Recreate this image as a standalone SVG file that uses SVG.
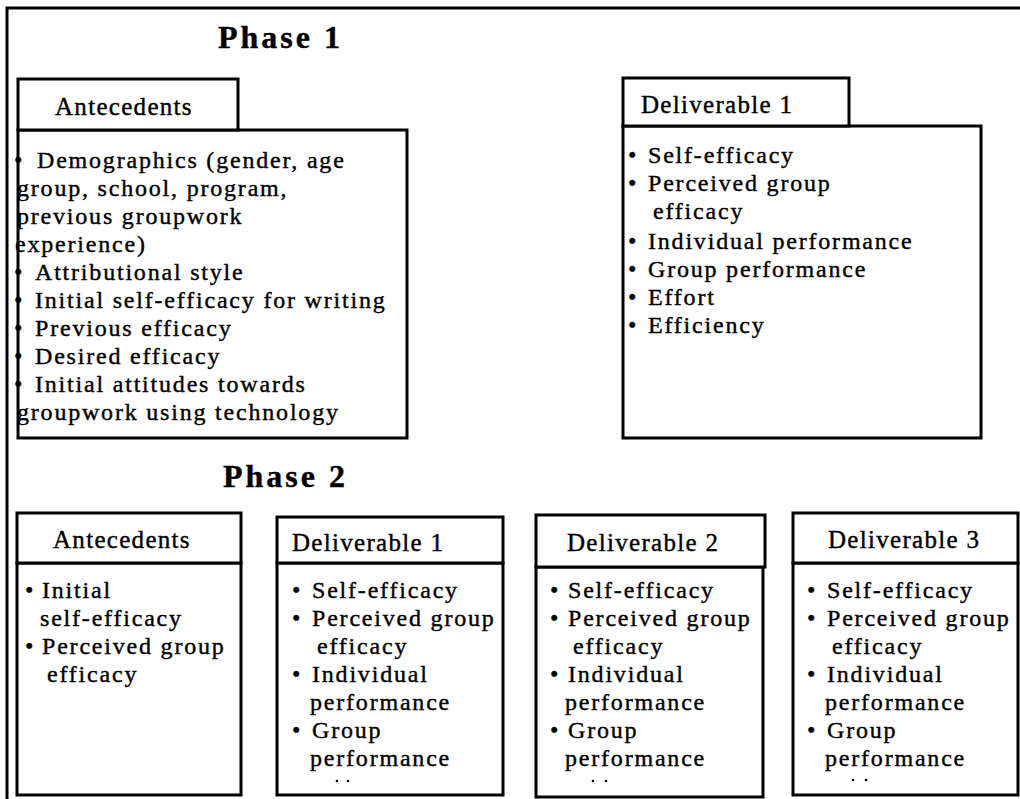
<svg xmlns="http://www.w3.org/2000/svg" width="1020" height="799" viewBox="0 0 1020 799">
<style>
.box{fill:#fff;stroke:#000;stroke-width:3}
.frame{fill:none;stroke:#000;stroke-width:3}
text{font-family:"Liberation Serif","Times New Roman",serif;fill:#000;stroke:#000;stroke-width:0.4}
.title{font-size:32px;font-weight:bold;letter-spacing:3px}
.h{font-size:25px;letter-spacing:1.3px}
.t{font-size:24px;letter-spacing:1.8px}
</style>
<rect width="1020" height="799" fill="#fff"/>
<path class="frame" d="M7,799 V8 H1020"/>
<text class="title" x="218" y="48">Phase 1</text>
<text class="title" x="223" y="487">Phase 2</text>

<g id="p1-antecedents">
<rect class="box" x="18" y="130" width="389" height="308"/>
<rect class="box" x="18" y="79" width="220" height="51"/>
<text class="h" x="55" y="115">Antecedents</text>
<g class="t">
<text x="14" y="168">•</text><text x="37" y="168">Demographics (gender, age</text>
<text x="17" y="196">group, school, program,</text>
<text x="17" y="224">previous groupwork</text>
<text x="15" y="252">experience)</text>
<text x="14" y="280">•</text><text x="35" y="280">Attributional style</text>
<text x="14" y="308">•</text><text x="35" y="308">Initial self-efficacy for writing</text>
<text x="14" y="336">•</text><text x="35" y="336">Previous efficacy</text>
<text x="14" y="364">•</text><text x="35" y="364">Desired efficacy</text>
<text x="14" y="392">•</text><text x="35" y="392">Initial attitudes towards</text>
<text x="17" y="420">groupwork using technology</text>
</g>
</g>

<g id="p1-deliverable1">
<rect class="box" x="623" y="126" width="358" height="312"/>
<rect class="box" x="623" y="78" width="226" height="48"/>
<text class="h" x="641" y="113">Deliverable 1</text>
<g class="t">
<text x="628" y="163">•</text><text x="648" y="163">Self-efficacy</text>
<text x="628" y="191">•</text><text x="648" y="191">Perceived group</text>
<text x="653" y="219">efficacy</text>
<text x="628" y="249">•</text><text x="648" y="249">Individual performance</text>
<text x="628" y="277">•</text><text x="648" y="277">Group performance</text>
<text x="628" y="305">•</text><text x="648" y="305">Effort</text>
<text x="628" y="333">•</text><text x="648" y="333">Efficiency</text>
</g>
</g>

<g id="p2-antecedents">
<rect class="box" x="17" y="563" width="224" height="232"/>
<rect class="box" x="17" y="513" width="224" height="50"/>
<text class="h" x="53" y="548">Antecedents</text>
<g class="t">
<text x="25" y="598">•</text><text x="42" y="598">Initial</text>
<text x="40" y="626">self-efficacy</text>
<text x="25" y="654">•</text><text x="42" y="654">Perceived group</text>
<text x="47" y="682">efficacy</text>
</g>
</g>

<g id="p2-deliverable1">
<rect class="box" x="277" y="563" width="226" height="232"/>
<rect class="box" x="277" y="517" width="226" height="46"/>
<text class="h" x="292" y="551">Deliverable 1</text>
<g class="t">
<text x="292" y="598">•</text><text x="312" y="598">Self-efficacy</text>
<text x="292" y="626">•</text><text x="312" y="626">Perceived group</text>
<text x="317" y="654">efficacy</text>
<text x="292" y="682">•</text><text x="312" y="682">Individual</text>
<text x="310" y="710">performance</text>
<text x="292" y="738">•</text><text x="312" y="738">Group</text>
<text x="310" y="766">performance</text>
</g>
<circle cx="337" cy="781" r="1.3"/><circle cx="348" cy="781" r="1.3"/>
</g>

<g id="p2-deliverable2">
<rect class="box" x="536" y="567" width="227" height="230"/>
<rect class="box" x="536" y="515" width="229" height="52"/>
<text class="h" x="567" y="551">Deliverable 2</text>
<g class="t">
<text x="550" y="598">•</text><text x="568" y="598">Self-efficacy</text>
<text x="550" y="626">•</text><text x="568" y="626">Perceived group</text>
<text x="573" y="654">efficacy</text>
<text x="550" y="682">•</text><text x="568" y="682">Individual</text>
<text x="565" y="710">performance</text>
<text x="550" y="738">•</text><text x="568" y="738">Group</text>
<text x="565" y="766">performance</text>
</g>
<circle cx="593" cy="781" r="1.3"/><circle cx="606" cy="781" r="1.3"/>
</g>

<g id="p2-deliverable3">
<rect class="box" x="793" y="563" width="225" height="232"/>
<rect class="box" x="793" y="513" width="225" height="50"/>
<text class="h" x="828" y="548">Deliverable 3</text>
<g class="t">
<text x="807" y="598">•</text><text x="827" y="598">Self-efficacy</text>
<text x="807" y="626">•</text><text x="827" y="626">Perceived group</text>
<text x="832" y="654">efficacy</text>
<text x="807" y="682">•</text><text x="827" y="682">Individual</text>
<text x="825" y="710">performance</text>
<text x="807" y="738">•</text><text x="827" y="738">Group</text>
<text x="825" y="766">performance</text>
</g>
<circle cx="853" cy="780" r="1.3"/><circle cx="866" cy="780" r="1.3"/>
</g>
<g id="connectors"/>
</svg>
